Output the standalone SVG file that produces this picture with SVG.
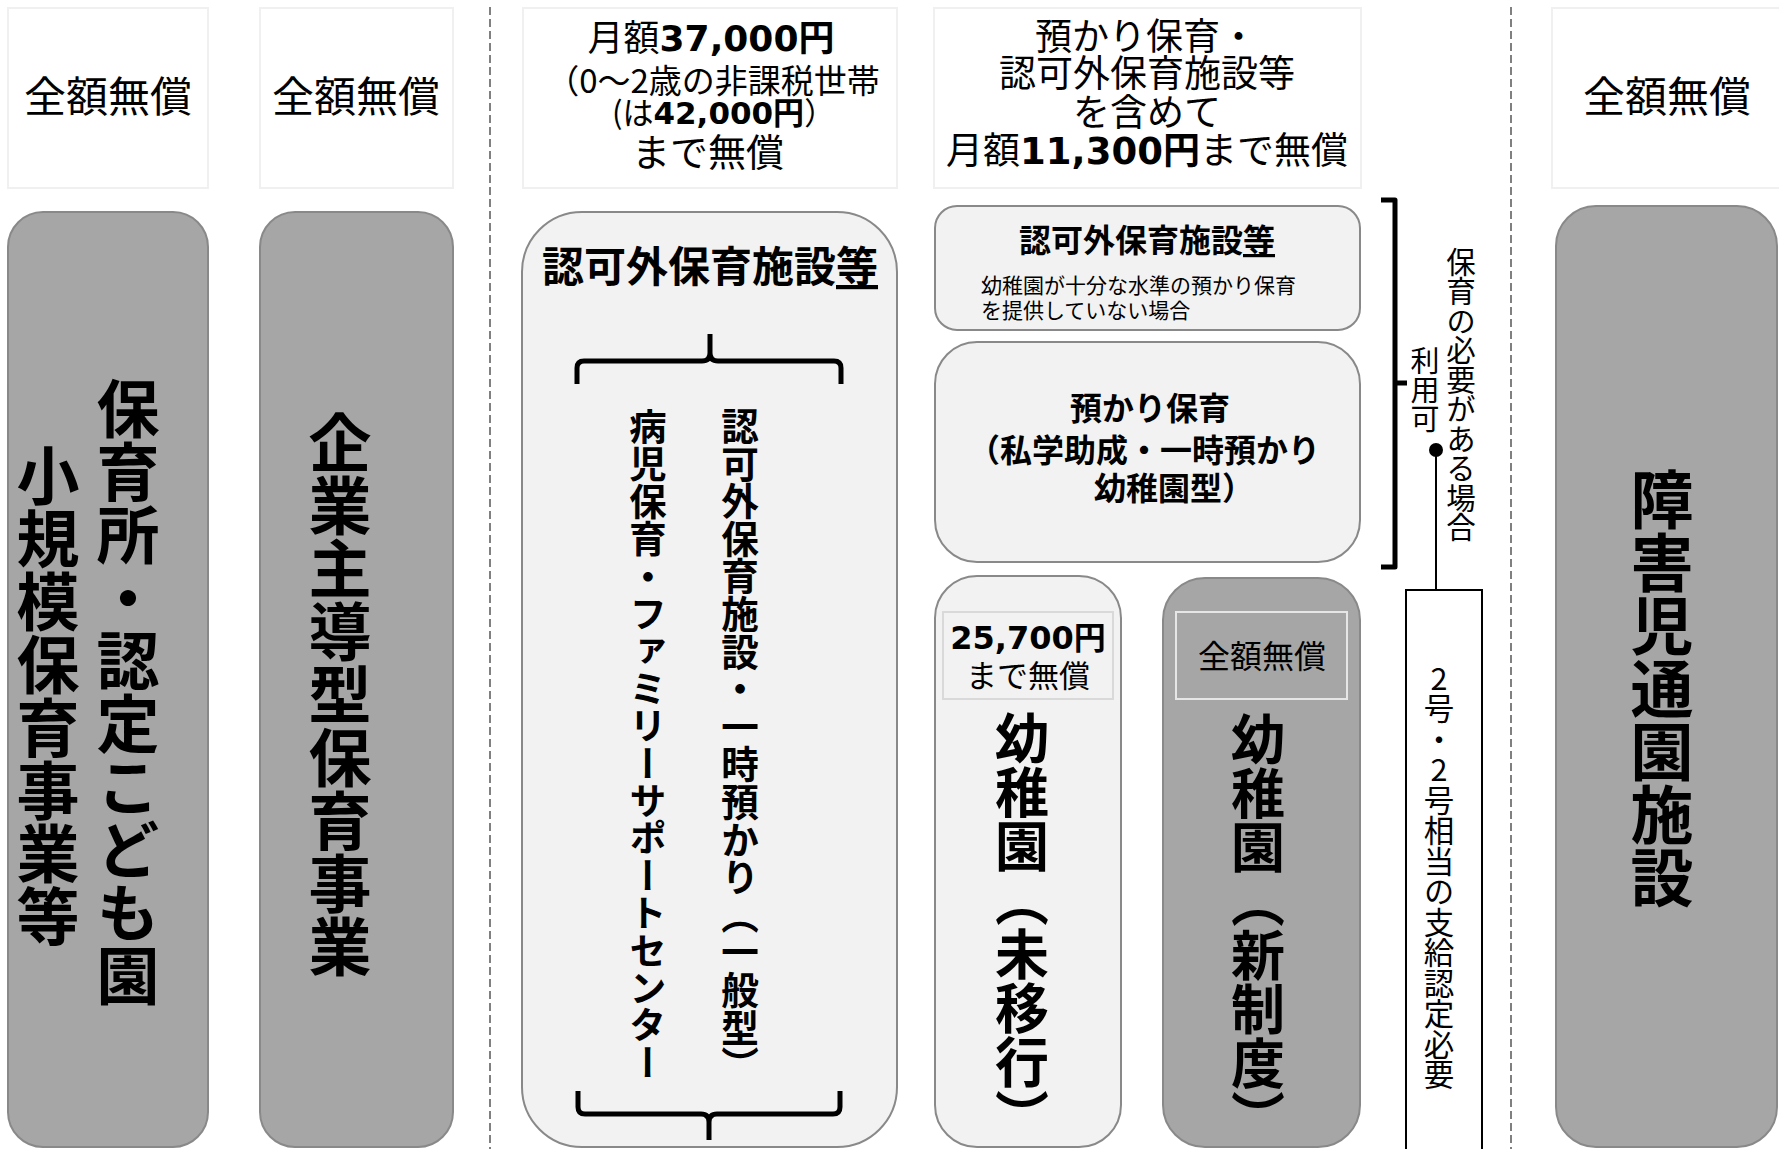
<svg xmlns="http://www.w3.org/2000/svg" width="1779" height="1149" viewBox="0 0 1779 1149">
<style>
text { font-family: "Noto Sans CJK JP", "Noto Sans", sans-serif; fill: #000; }
.b { font-weight: bold; }
.num { font-family: "DejaVu Sans", "Noto Sans CJK JP", sans-serif; font-weight: bold; }
.v { writing-mode: vertical-rl; }
.vu { writing-mode: vertical-rl; text-orientation: upright; }
.top { fill: #ffffff; stroke: #f0f0f0; stroke-width: 2; }
.dark { fill: #a6a6a6; stroke: #898989; stroke-width: 2; }
.light { fill: #f2f2f2; stroke: #898989; stroke-width: 2; }
.dash { stroke: #808080; stroke-width: 2; stroke-dasharray: 8 4; fill: none; }
.brk { fill: none; stroke: #000; stroke-width: 5; stroke-linecap: butt; stroke-linejoin: round; }
.ul { text-decoration: underline; }
</style>

<g id="dividers">
  <line class="dash" x1="490" y1="7" x2="490" y2="1149"/>
  <line class="dash" x1="1511" y1="7" x2="1511" y2="1149"/>
</g>

<!-- top cost boxes -->
<g id="cost-hoikusho">
  <rect class="top" x="8" y="8" width="200" height="180"/>
  <text x="108" y="112" font-size="42" text-anchor="middle">全額無償</text>
</g>
<g id="cost-kigyo">
  <rect class="top" x="260" y="8" width="193" height="180"/>
  <text x="356" y="112" font-size="42" text-anchor="middle">全額無償</text>
</g>
<g id="cost-ninkagai">
  <rect class="top" x="523" y="8" width="374" height="180"/>
  <text x="711" y="51" font-size="36" text-anchor="middle">月額<tspan class="num">37,000円</tspan></text>
  <text x="713" y="93" font-size="33" text-anchor="middle">（0～2歳の非課税世帯</text>
  <text x="612" y="124" font-size="31">(は<tspan class="num">42,000円</tspan>）</text>
  <text x="708" y="166" font-size="38" text-anchor="middle">まで無償</text>
</g>
<g id="cost-azukari">
  <rect class="top" x="934" y="8" width="427" height="180"/>
  <text x="1146" y="50" font-size="37" text-anchor="middle">預かり保育・</text>
  <text x="1147" y="87" font-size="37" text-anchor="middle">認可外保育施設等</text>
  <text x="1147" y="126" font-size="37" text-anchor="middle">を含めて</text>
  <text x="1147" y="164" font-size="37" text-anchor="middle">月額<tspan class="num">11,300円</tspan>まで無償</text>
</g>
<g id="cost-shogaiji">
  <rect class="top" x="1552" y="8" width="240" height="180"/>
  <text x="1667" y="112" font-size="42" text-anchor="middle">全額無償</text>
</g>

<!-- facility nodes -->
<g id="hoikusho">
  <rect class="dark" x="8" y="212" width="200" height="935" rx="35" ry="35"/>
  <text class="v b" x="128" y="692" font-size="63" text-anchor="middle">保育所・認定こども園</text>
  <text class="v b" x="48" y="696" font-size="63" text-anchor="middle">小規模保育事業等</text>
</g>
<g id="kigyo">
  <rect class="dark" x="260" y="212" width="193" height="935" rx="35" ry="35"/>
  <text class="v b" x="340" y="694" font-size="63" text-anchor="middle">企業主導型保育事業</text>
</g>
<g id="ninkagai">
  <rect class="light" x="522" y="212" width="375" height="935" rx="60" ry="60"/>
  <text class="b" x="710" y="282" font-size="42" text-anchor="middle">認可外保育施設<tspan class="ul">等</tspan></text>
  <text class="v b" x="740" y="407" font-size="37.6">認可外保育施設・一時預かり（一般型）</text>
  <text class="v b" x="648" y="408" font-size="37.4">病児保育・ファミリーサポートセンター</text>
</g>
<g id="ninkagai-youchien">
  <rect class="light" x="935" y="206" width="425" height="124" rx="22" ry="22"/>
  <text class="b" x="1147" y="252" font-size="32" text-anchor="middle">認可外保育施設<tspan class="ul">等</tspan></text>
  <text x="981" y="293" font-size="21">幼稚園が十分な水準の預かり保育</text>
  <text x="981" y="318" font-size="21">を提供していない場合</text>
</g>
<g id="azukari-hoiku">
  <rect class="light" x="935" y="342" width="425" height="220" rx="42" ry="42"/>
  <text class="b" x="1070" y="420" font-size="32">預かり保育</text>
  <text class="b" x="968" y="462" font-size="32">（私学助成・一時預かり</text>
  <text class="b" x="1094" y="500" font-size="32">幼稚園型）</text>
</g>
<g id="youchien-mikou">
  <rect class="light" x="935" y="576" width="186" height="571" rx="42" ry="42"/>
  <rect x="943" y="612" width="170" height="87" fill="#f2f2f2" stroke="#d9d9d9" stroke-width="2"/>
  <text class="num" x="1028" y="649" font-size="32" text-anchor="middle">25,700円</text>
  <text x="1028" y="687" font-size="31" text-anchor="middle">まで無償</text>
  <text class="v b" x="1022" y="711" font-size="54">幼稚園（未移行）</text>
</g>
<g id="youchien-shinseido">
  <rect class="dark" x="1163" y="578" width="197" height="569" rx="42" ry="42"/>
  <rect x="1176" y="612" width="171" height="87" fill="#a6a6a6" stroke="#e6e6e6" stroke-width="2"/>
  <text x="1262" y="668" font-size="32" text-anchor="middle">全額無償</text>
  <text class="v b" x="1258" y="712" font-size="54">幼稚園（新制度）</text>
</g>
<g id="hoiku-hitsuyou">
  <text class="v" x="1461" y="247" font-size="29.5">保育の必要がある場合</text>
  <text class="v" x="1425" y="346" font-size="29">利用可</text>
</g>
<g id="nintei">
  <rect x="1406" y="590" width="76" height="570" fill="#ffffff" stroke="#000" stroke-width="2"/>
  <text class="vu" x="1439" y="663" font-size="30.5">2号・2号相当の支給認定必要</text>
</g>
<g id="shogaiji">
  <rect class="dark" x="1556" y="206" width="221" height="941" rx="40" ry="40"/>
  <text class="v b" x="1662" y="688" font-size="63" text-anchor="middle">障害児通園施設</text>
</g>

<!-- connectors / brackets -->
<g id="connectors">
  <path class="brk" d="M577,384 L577,368 Q577,361 584,361 L702,361 Q710,361 710,353 L710,334 M710,353 Q710,361 718,361 L834,361 Q841,361 841,368 L841,384"/>
  <path class="brk" d="M578,1091 L578,1107 Q578,1114 585,1114 L701,1114 Q709,1114 709,1122 L709,1140 M709,1122 Q709,1114 717,1114 L833,1114 Q840,1114 840,1107 L840,1091"/>
  <path class="brk" d="M1381,200 L1395,200 L1395,567 L1381,567 M1395,383 L1407,383"/>
  <line x1="1436" y1="450" x2="1436" y2="590" stroke="#000" stroke-width="2"/>
  <circle cx="1436" cy="450" r="7" fill="#000"/>
</g>
</svg>
